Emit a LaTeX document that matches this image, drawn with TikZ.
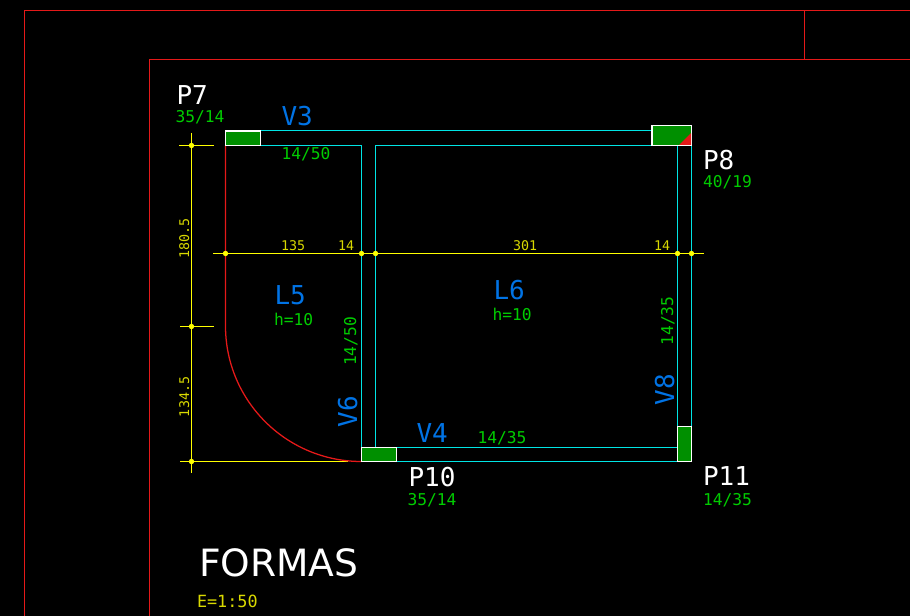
\documentclass[tikz,border=0pt]{standalone}
\usepackage{fontspec}
\setmainfont{DejaVu Sans}
\newfontfamily\cadmono{DejaVu Sans Mono}
\definecolor{frm}{rgb}{.9,.1,.1}
\definecolor{bm}{rgb}{0,.9,.9}
\definecolor{dm}{rgb}{1,1,0}
\definecolor{dmt}{rgb}{.85,.85,0}
\definecolor{pil}{rgb}{0,.56,0}
\definecolor{grn}{rgb}{0,.8,0}
\definecolor{blu}{rgb}{0,.45,.9}
\tikzset{
  every node/.style={inner sep=0pt, outer sep=0pt, anchor=base west},
  pnum/.style={text=white, font=\cadmono\fontsize{19.5}{20}\selectfont},
  bnum/.style={text=blu, font=\cadmono\fontsize{19.5}{20}\selectfont},
  sect/.style={text=grn, font=\cadmono\fontsize{12.2}{13}\selectfont},
  dimt/.style={text=dmt, font=\cadmono\fontsize{10}{11}\selectfont},
  dot/.style={circle, fill=dm, minimum size=4pt, anchor=center},
  pillar/.style={draw=white, fill=pil, line width=.95pt}
}
\begin{document}
\begin{tikzpicture}
  [x=.75pt, y=-.75pt, line width=.95pt]
    \fill[black, use as bounding box] (0,0) rectangle (910,616);
    % sheet frames
    \draw[frm] (24.5,616) -- (24.5,10.5) -- (910,10.5);
    \draw[frm] (804.5,10.5) -- (804.5,59.5);
    \draw[frm] (149.5,616) -- (149.5,59.5) -- (910,59.5);
    % beams
    \draw[bm] (225,130.5) -- (652,130.5);
    \draw[bm] (260,145.5) -- (361.5,145.5) -- (361.5,447.5);
    \draw[bm] (375.5,447.5) -- (375.5,145.5) -- (677.5,145.5) -- (677.5,426);
    \draw[bm] (691.5,145) -- (691.5,426);
    \draw[bm] (396,447.5) -- (677,447.5);
    \draw[bm] (396,461.5) -- (677,461.5);
    % dimension lines
    \draw[dm] (191.5,133) -- (191.5,473);
    \draw[dm] (179,145.5) -- (214,145.5);
    \draw[dm] (180,326.5) -- (214,326.5);
    \draw[dm] (180,461.5) -- (348,461.5);
    \draw[dm] (213,253.5) -- (704,253.5);
    % free edge of slab
    \draw[frm] (225.5,145.5) -- (225.5,326) arc[start angle=180, end angle=270, x radius=136, y radius=-135.5];
    % pillars
    \draw[pillar] (225.5,131) rectangle (260.5,145.5);
    \draw[pillar] (652,125.5) rectangle (691.5,145.5);
    \fill[frm] (679,145) -- (691,133) -- (691,145) -- cycle;
    \draw[pillar] (361.5,447.5) rectangle (396.5,461.5);
    \draw[pillar] (677.5,426.5) rectangle (691.5,461.5);
    \foreach \num/\x/\y in {1/191.5/145.5,2/191.5/326.5,3/191.5/461.5,4/225.5/253.5,
                  5/361.5/253.5,6/375.5/253.5,7/677.5/253.5,8/691.5/253.5}{
      \node[dot] (d\num) at (\x,\y) {};}
    % labels
    \foreach \nm/\x/\y/\txt in {p7/176.5/105/P7,p8/703/170/P8,p10/408.5/486/P10,p11/703/485/P11}{
      \node[pnum] (\nm) at (\x,\y) {\txt};}
    \foreach \nm/\x/\y/\txt in {v3/281.5/126/V3,v4/416.5/442/V4,l5/274.5/305/L5,l6/493.5/300/L6}{
      \node[bnum] (\nm) at (\x,\y) {\txt};}
    \foreach \nm/\x/\y/\txt in {v6/357/427/V6,v8/674/405.5/V8}{
      \node[bnum, rotate=90] (\nm) at (\x,\y) {\txt};}
    \foreach \nm/\x/\y/\txt in {s7/175.5/123/35\slash 14,s8/703/188/40\slash 19,s10/407.5/505/35\slash 14,
                  s11/703/505/14\slash 35,sv3/281.5/160/14\slash 50,sv4/477.5/443/14\slash 35,
                  h5/274/326/h=10,h6/492.5/321/h=10}{
      \node[sect] (\nm) at (\x,\y) {\txt};}
    \foreach \nm/\x/\y/\txt in {sv6/356/366/14\slash 50,sv8/673/345.5/14\slash 35}{
      \node[sect, rotate=90] (\nm) at (\x,\y) {\txt};}
    \foreach \nm/\x/\y/\txt in {t1/281/251/135,t2/338/251/14,t3/513/251/301,t4/654/251/14}{
      \node[dimt] (\nm) at (\x,\y) {\txt};}
    \foreach \nm/\x/\y/\txt in {t5/189/259/180.5,t6/189/417/134.5}{
      \node[dimt, rotate=90] (\nm) at (\x,\y) {\txt};}
    \node[text=white, font=\fontsize{28.2}{30}\selectfont] (title) at (199,576) {FORMAS};
    \node[text=dmt, font=\cadmono\fontsize{12.6}{13}\selectfont] (scale) at (197,607) {E=1:50};
\end{tikzpicture}
\end{document}
